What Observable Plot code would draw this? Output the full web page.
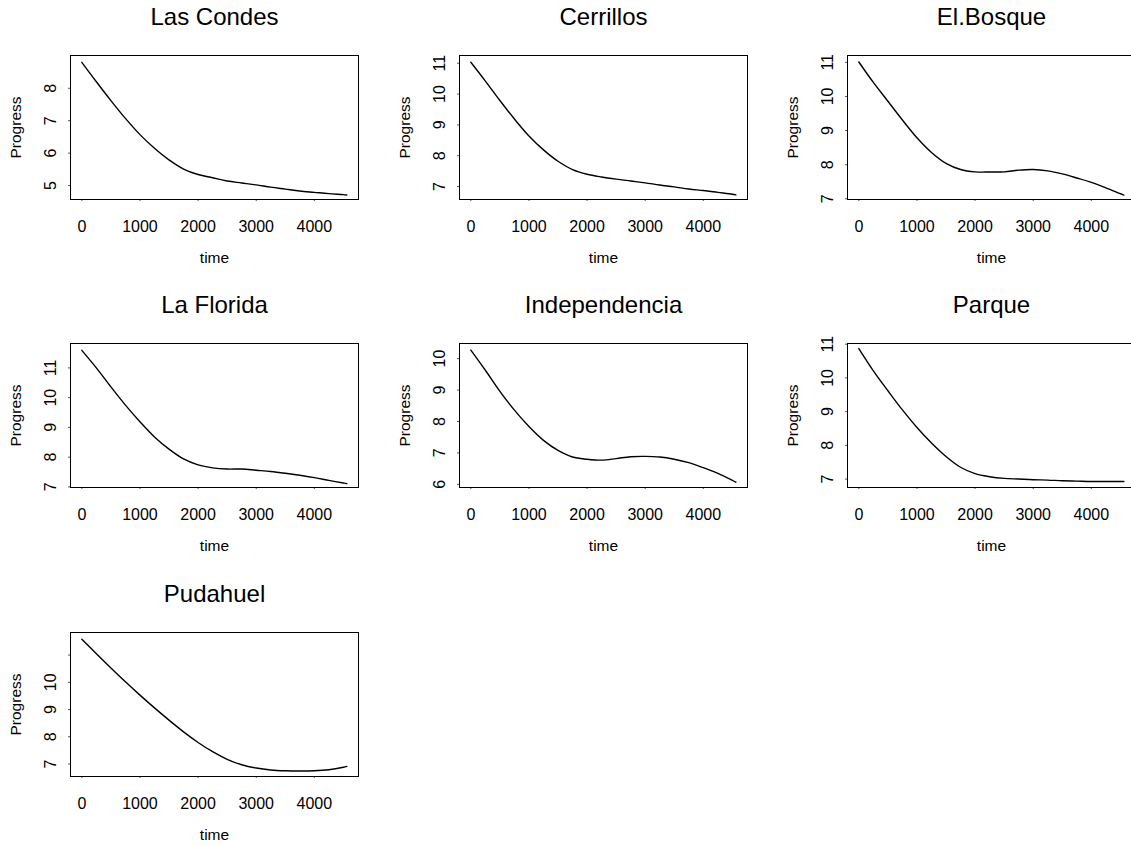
<!DOCTYPE html>
<html>
<head>
<meta charset="utf-8">
<script src="https://cdn.jsdelivr.net/npm/d3@7"></script>
<script src="https://cdn.jsdelivr.net/npm/@observablehq/plot@0.6"></script>
<style>
  html, body { margin: 0; padding: 0; background: #fff; overflow: hidden; }
  #chart { position: relative; width: 1131px; height: 846px; overflow: hidden; background: #fff;
           font-family: "Liberation Sans", Arial, Helvetica, sans-serif; }
  .panel { position: absolute; }
  .panel svg { max-width: none !important; display: block; }
</style>
</head>
<body>
<div id="chart"></div>
<script>
// ---- data ----
const districts = ["Las Condes", "Cerrillos", "El.Bosque", "La Florida", "Independencia", "Parque", "Pudahuel"];
const time = [0, 250, 500, 750, 1000, 1250, 1500, 1750, 2000, 2250, 2500, 2750, 3000, 3250, 3500, 3750, 4000, 4250, 4500, 4560];

const lasCondes     = [8.80, 8.20, 7.62, 7.07, 6.57, 6.15, 5.79, 5.51, 5.34, 5.24, 5.14, 5.08, 5.02, 4.95, 4.89, 4.83, 4.79, 4.75, 4.72, 4.71];
const cerrillos     = [11.03, 10.42, 9.79, 9.19, 8.64, 8.19, 7.82, 7.55, 7.40, 7.31, 7.24, 7.18, 7.12, 7.05, 6.99, 6.92, 6.87, 6.81, 6.75, 6.73];
const elBosque      = [11.01, 10.41, 9.86, 9.31, 8.79, 8.36, 8.04, 7.86, 7.79, 7.785, 7.79, 7.84, 7.86, 7.82, 7.73, 7.61, 7.48, 7.32, 7.15, 7.11];
const laFlorida     = [11.59, 11.00, 10.36, 9.75, 9.19, 8.68, 8.27, 7.94, 7.74, 7.64, 7.60, 7.60, 7.56, 7.52, 7.46, 7.39, 7.31, 7.22, 7.13, 7.11];
const independencia = [10.27, 9.63, 8.96, 8.36, 7.84, 7.40, 7.08, 6.87, 6.80, 6.77, 6.82, 6.88, 6.89, 6.87, 6.80, 6.69, 6.53, 6.35, 6.13, 6.07];
const parque        = [10.87, 10.21, 9.62, 9.05, 8.53, 8.07, 7.67, 7.35, 7.16, 7.07, 7.02, 7.00, 6.98, 6.97, 6.95, 6.94, 6.93, 6.93, 6.93, 6.93];
const pudahuel      = [11.58, 11.05, 10.53, 10.02, 9.53, 9.06, 8.61, 8.18, 7.79, 7.45, 7.17, 6.97, 6.85, 6.78, 6.75, 6.74, 6.75, 6.79, 6.88, 6.91];

const xTicks = [0, 1000, 2000, 3000, 4000];
const xDomain = [-195, 4760];
const yDomains = [[4.57, 9.01], [6.58, 11.25], [6.98, 11.2], [6.98, 11.82], [5.9, 10.48], [6.75, 11.02], [6.54, 11.83]];
const yTicks = [[5, 6, 7, 8], [7, 8, 9, 10, 11], [7, 8, 9, 10, 11], [7, 8, 9, 10, 11], [6, 7, 8, 9, 10], [7, 8, 9, 10, 11], [7, 8, 9, 10, 11]];
const yTickLabels = [["5", "6", "7", "8"], ["7", "8", "9", "10", "11"], ["7", "8", "9", "10", "11"], ["7", "8", "9", "10", "11"],
                     ["6", "7", "8", "9", "10"], ["7", "8", "9", "10", "11"], ["7", "8", "9", "10", ""]];
const series = [lasCondes, cerrillos, elBosque, laFlorida, independencia, parque, pudahuel];

// ---- layout ----
const colLeft = [70, 458.7, 846.7];
const rowTop = [55, 343.3, 631.7];
const BW = 288, BH = 144;
const ML = 80, MT = 60, MB = 80, MR = 10;
const font = "Liberation Sans, Arial, Helvetica, sans-serif";

const chart = document.getElementById("chart");

districts.forEach((name, i) => {
  const col = i % 3, row = Math.floor(i / 3);
  const data = time.map((t, j) => ({time: t, progress: series[i][j]}));
  const labels = new Map(yTicks[i].map((t, j) => [t, yTickLabels[i][j]]));
  const W = ML + BW + MR, H = MT + BH + MB;
  const svg = Plot.plot({
    width: W,
    height: H,
    marginLeft: ML, marginTop: MT, marginBottom: MB, marginRight: MR,
    style: {fontFamily: font, background: "transparent", overflow: "visible", color: "black"},
    x: {domain: xDomain},
    y: {domain: yDomains[i]},
    marks: [
      Plot.axisX({ticks: xTicks, tickSize: 2, tickPadding: 19, fontSize: 16, label: null,
                  stroke: "#555", tickFormat: d => String(d)}),
      Plot.axisY({ticks: yTicks[i], tickSize: 2, tickPadding: 13, tickRotate: -90, fontSize: 16, label: null,
                  stroke: "#555", tickFormat: d => labels.get(d)}),
      Plot.line(data, {x: "time", y: "progress", stroke: "black", strokeWidth: 1.4, curve: "catmull-rom"}),
      Plot.frame({stroke: "black", strokeWidth: 1}),
      Plot.text([name], {text: d => d, frameAnchor: "top", dy: -38.5, lineAnchor: "middle", textAnchor: "middle",
                         fontSize: 24, fill: "black"}),
      Plot.text(["time"], {text: d => d, frameAnchor: "bottom", dy: 59, lineAnchor: "middle", textAnchor: "middle",
                           fontSize: 15.5, fill: "black"}),
      Plot.text(["Progress"], {text: d => d, frameAnchor: "left", dx: -54, rotate: -90, lineAnchor: "middle",
                               textAnchor: "middle", fontSize: 15.5, fill: "black"})
    ]
  });
  const div = document.createElement("div");
  div.className = "panel";
  div.style.left = (colLeft[col] - ML) + "px";
  div.style.top = (rowTop[row] - MT) + "px";
  div.style.width = W + "px";
  div.style.height = H + "px";
  div.appendChild(svg);
  chart.appendChild(div);
});
</script>
</body>
</html>
